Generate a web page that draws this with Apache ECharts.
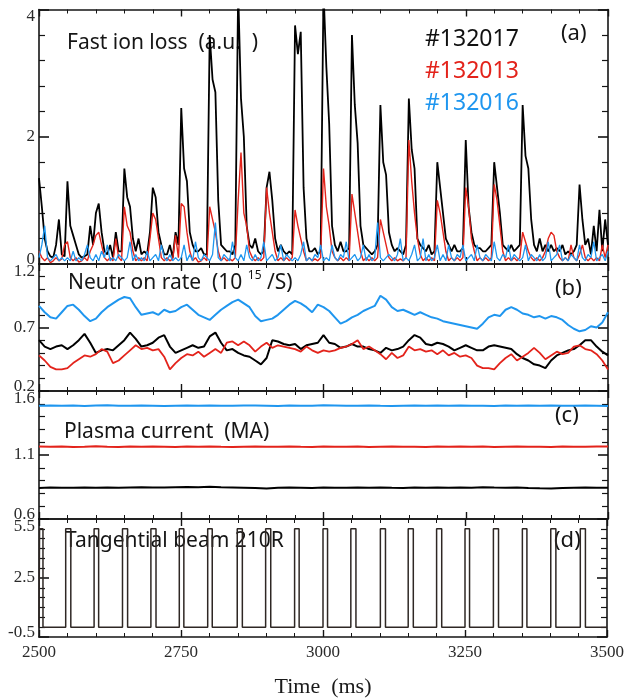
<!DOCTYPE html>
<html>
<head>
<meta charset="utf-8">
<script src="https://cdn.jsdelivr.net/npm/echarts@6/dist/echarts.min.js"></script>
<style>
  html, body { margin: 0; padding: 0; background: #ffffff; }
  #chart { width: 627px; height: 699px; }
</style>
</head>
<body>
<div id="chart"></div>
<script>
// ---------------- data ----------------
const T_START = 2500;          // ms, first sample
const T_END = 3500;            // ms, last sample
const LOSS_STEP = 5;           // ms between fast-ion-loss samples
const NEUTRON_STEP = 10;       // ms between neutron-rate samples
const CURRENT_STEP = 20;       // ms between plasma-current samples

const shotNames = ['#132017', '#132013', '#132016'];

// (a) fast ion loss, a.u., every 5 ms from 2500 ms
const loss132017 = [
  1.35,0.9,0.4,0.2,0.12,0.1,0.3,0.7,0.15,0.12,
  1.3,0.6,0.45,0.3,0.15,0.1,0.12,0.15,0.6,0.3,
  0.8,0.95,0.5,0.2,0.15,0.3,0.1,0.5,0.2,0.2,
  1.5,1.05,0.9,0.4,0.2,0.4,0.15,0.2,0.15,0.5,
  1.2,1.05,0.5,0.3,0.15,0.15,0.3,0.1,0.5,0.3,
  2.45,1.5,1.3,0.5,0.3,0.2,0.2,0.25,0.15,0.15,
  3.6,2.9,2.7,1.0,0.3,0.25,0.2,0.2,0.15,0.3,
  4.3,2.6,2.0,0.6,0.3,0.25,0.4,0.2,0.15,0.2,
  1.2,1.45,1.0,0.4,0.2,0.3,0.2,0.15,0.2,0.15,
  3.75,3.3,3.65,1.2,0.4,0.2,0.2,0.25,0.15,0.2,
  4.3,3.1,2.2,0.6,0.3,0.2,0.35,0.2,0.2,0.25,
  3.6,2.5,1.9,0.6,0.3,0.25,0.2,0.15,0.2,0.3,
  2.5,1.6,1.4,0.5,0.3,0.2,0.25,0.2,0.15,0.3,
  2.6,1.8,1.5,0.4,0.3,0.25,0.2,0.3,0.15,0.2,
  1.6,1.2,0.8,0.4,0.3,0.2,0.3,0.2,0.2,0.25,
  1.95,0.9,0.5,0.3,0.25,0.25,0.2,0.2,0.25,0.3,
  1.6,1.2,0.8,0.3,0.25,0.2,0.3,0.2,0.25,0.3,
  2.5,1.7,1.5,0.7,0.3,0.2,0.4,0.2,0.3,0.2,
  0.3,0.2,0.25,0.2,0.3,0.15,0.2,0.15,0.2,0.3,
  1.25,0.7,0.3,0.4,0.15,0.6,0.2,0.85,0.2,0.7,
  0.3
];
const loss132013 = [
  0.2,0.1,0.05,0.1,0.02,0.05,0.1,0.05,0.08,0.3,
  0.35,0.1,0.05,0.1,0.03,0.05,0.1,0.05,0.2,0.3,
  0.45,0.5,0.3,0.1,0.05,0.1,0.05,0.4,0.1,0.05,
  0.9,0.6,0.5,0.2,0.05,0.1,0.05,0.1,0.05,0.4,
  0.8,0.7,0.4,0.1,0.05,0.1,0.05,0.08,0.45,0.1,
  0.95,0.9,0.5,0.2,0.05,0.1,0.03,0.05,0.1,0.05,
  0.9,0.7,0.5,0.2,0.05,0.1,0.05,0.08,0.05,0.1,
  1.0,1.75,0.8,0.6,0.2,0.1,0.05,0.1,0.05,0.1,
  1.2,0.8,0.5,0.2,0.05,0.1,0.05,0.1,0.05,0.1,
  0.85,0.6,0.4,0.2,0.05,0.1,0.05,0.08,0.05,0.1,
  1.5,0.9,0.6,0.2,0.1,0.05,0.1,0.05,0.1,0.05,
  1.1,0.8,0.5,0.2,0.05,0.1,0.05,0.1,0.05,0.1,
  0.7,0.5,0.3,0.1,0.05,0.1,0.05,0.08,0.05,0.1,
  1.95,1.3,0.8,0.4,0.15,0.05,0.1,0.05,0.1,0.05,
  1.0,0.8,0.5,0.2,0.05,0.1,0.05,0.1,0.05,0.1,
  1.2,0.9,0.4,0.2,0.05,0.1,0.05,0.1,0.05,0.1,
  1.25,1.0,0.6,0.2,0.05,0.1,0.05,0.1,0.05,0.1,
  0.5,0.35,0.2,0.1,0.05,0.1,0.05,0.1,0.2,0.4,
  0.5,0.45,0.2,0.1,0.05,0.1,0.05,0.3,0.1,0.05,
  0.15,0.3,0.1,0.05,0.1,0.05,0.1,0.05,0.3,0.1,
  0.3
];
const loss132016 = [
  0.1,0.3,0.6,0.1,0.05,0.1,0.15,0.05,0.1,0.05,
  0.1,0.05,0.2,0.05,0.1,0.05,0.15,0.3,0.1,0.05,
  0.15,0.05,0.2,0.1,0.3,0.05,0.1,0.05,0.15,0.1,
  0.05,0.1,0.35,0.05,0.15,0.05,0.1,0.05,0.2,0.05,
  0.1,0.15,0.05,0.3,0.1,0.05,0.15,0.05,0.1,0.05,
  0.1,0.3,0.05,0.15,0.05,0.35,0.1,0.05,0.15,0.1,
  0.05,0.15,0.65,0.1,0.05,0.15,0.1,0.05,0.35,0.1,
  0.05,0.15,0.05,0.3,0.1,0.05,0.15,0.05,0.1,0.35,
  0.05,0.1,0.15,0.05,0.1,0.3,0.05,0.15,0.1,0.05,
  0.1,0.05,0.15,0.35,0.05,0.1,0.05,0.15,0.1,0.3,
  0.05,0.1,0.05,0.3,0.1,0.05,0.15,0.1,0.35,0.05,
  0.1,0.15,0.05,0.1,0.3,0.05,0.15,0.05,0.1,0.65,
  0.1,0.05,0.1,0.15,0.1,0.05,0.15,0.4,0.05,0.1,
  0.05,0.15,0.3,0.05,0.1,0.4,0.05,0.15,0.05,0.1,
  0.3,0.05,0.15,0.05,0.3,0.1,0.05,0.15,0.1,0.3,
  0.05,0.1,0.15,0.05,0.3,0.1,0.05,0.15,0.1,0.05,
  0.35,0.1,0.05,0.15,0.1,0.3,0.05,0.15,0.1,0.05,
  0.1,0.3,0.05,0.15,0.1,0.05,0.15,0.05,0.1,0.35,
  0.05,0.1,0.15,0.3,0.05,0.1,0.05,0.15,0.1,0.05,
  0.3,0.1,0.05,0.15,0.1,0.35,0.05,0.1,0.15,0.05,
  0.2
];

// (b) neutron rate, 10^15 /s, every 10 ms from 2500 ms
const neutron132017 = [
  0.60,0.55,0.53,0.55,0.56,0.53,0.56,0.60,0.65,0.58,
  0.50,0.52,0.53,0.52,0.56,0.60,0.66,0.61,0.55,0.56,
  0.58,0.62,0.64,0.55,0.50,0.52,0.54,0.56,0.54,0.55,
  0.63,0.66,0.58,0.52,0.53,0.50,0.48,0.47,0.44,0.41,
  0.46,0.60,0.59,0.57,0.56,0.57,0.53,0.56,0.57,0.58,
  0.64,0.58,0.57,0.54,0.55,0.57,0.55,0.55,0.53,0.52,
  0.50,0.54,0.52,0.53,0.55,0.60,0.64,0.62,0.57,0.56,
  0.58,0.57,0.55,0.52,0.54,0.56,0.54,0.52,0.52,0.55,
  0.56,0.55,0.54,0.53,0.49,0.46,0.44,0.41,0.40,0.38,
  0.44,0.48,0.50,0.52,0.53,0.56,0.60,0.60,0.55,0.51,
  0.48
];
const neutron132013 = [
  0.48,0.44,0.39,0.37,0.37,0.38,0.42,0.45,0.48,0.47,
  0.49,0.53,0.51,0.42,0.44,0.48,0.52,0.56,0.53,0.54,
  0.52,0.53,0.47,0.37,0.42,0.46,0.49,0.48,0.51,0.47,
  0.50,0.53,0.50,0.58,0.59,0.56,0.59,0.56,0.51,0.55,
  0.58,0.54,0.56,0.55,0.54,0.53,0.51,0.55,0.52,0.50,
  0.52,0.51,0.52,0.54,0.55,0.57,0.60,0.53,0.55,0.52,
  0.49,0.45,0.50,0.46,0.48,0.55,0.52,0.53,0.51,0.52,
  0.49,0.52,0.48,0.50,0.47,0.48,0.46,0.40,0.38,0.38,
  0.37,0.42,0.46,0.49,0.44,0.47,0.50,0.54,0.50,0.45,
  0.48,0.51,0.49,0.50,0.55,0.56,0.53,0.52,0.49,0.44,
  0.37
];
const neutron132016 = [
  0.87,0.82,0.78,0.77,0.82,0.87,0.88,0.84,0.79,0.75,
  0.77,0.82,0.86,0.89,0.92,0.94,0.93,0.86,0.80,0.81,
  0.82,0.80,0.84,0.82,0.83,0.86,0.88,0.84,0.80,0.78,
  0.76,0.80,0.84,0.87,0.90,0.92,0.89,0.86,0.79,0.75,
  0.76,0.77,0.80,0.84,0.88,0.91,0.89,0.86,0.82,0.88,
  0.86,0.83,0.78,0.73,0.75,0.78,0.80,0.83,0.85,0.87,
  0.95,0.92,0.86,0.83,0.84,0.82,0.80,0.82,0.80,0.78,
  0.77,0.75,0.74,0.73,0.72,0.71,0.70,0.69,0.73,0.78,
  0.80,0.79,0.84,0.86,0.84,0.81,0.80,0.78,0.79,0.77,
  0.79,0.78,0.76,0.72,0.69,0.67,0.68,0.71,0.70,0.74,
  0.82
];

// (c) plasma current, MA, every 20 ms from 2500 ms
const current132017 = [
  0.843,0.846,0.844,0.845,0.847,0.845,0.846,0.844,0.847,0.849,
  0.847,0.846,0.848,0.850,0.849,0.851,0.848,0.846,0.844,0.842,
  0.838,0.844,0.846,0.845,0.843,0.846,0.844,0.845,0.847,0.845,
  0.846,0.844,0.843,0.846,0.845,0.847,0.844,0.846,0.845,0.848,
  0.846,0.845,0.847,0.843,0.840,0.838,0.843,0.845,0.846,0.844,
  0.845
];
const current132013 = [
  1.166,1.164,1.167,1.163,1.165,1.168,1.165,1.163,1.166,1.164,
  1.166,1.165,1.163,1.166,1.165,1.167,1.164,1.162,1.165,1.166,
  1.164,1.165,1.167,1.164,1.163,1.166,1.165,1.164,1.166,1.163,
  1.165,1.167,1.164,1.165,1.163,1.166,1.165,1.167,1.164,1.166,
  1.162,1.165,1.166,1.164,1.165,1.163,1.166,1.164,1.165,1.167,
  1.166
];
const current132016 = [
  1.485,1.487,1.484,1.486,1.483,1.486,1.488,1.485,1.484,1.486,
  1.485,1.483,1.485,1.487,1.484,1.486,1.485,1.484,1.486,1.487,
  1.485,1.483,1.486,1.484,1.485,1.488,1.486,1.484,1.485,1.487,
  1.484,1.483,1.485,1.486,1.484,1.486,1.485,1.487,1.484,1.485,
  1.483,1.486,1.485,1.487,1.484,1.486,1.485,1.484,1.487,1.485,
  1.482
];

// (d) tangential beam 210R: switch-on / switch-off times (ms) and power levels
const beamOn  = [2501,2547,2597,2647,2697,2747,2797,2849,2899,2950,3000,3049,3101,3150,3200,3250,3300,3351,3401,3453];
const beamOff = [2507,2556,2605,2656,2706,2755,2805,2858,2908,2958,3008,3058,3110,3159,3209,3258,3309,3359,3410,3462];
const beamLow = 0;
const beamHigh = 5;

// axis ticks per panel
const panelMin      = [0, 0.2, 0.6, -0.5];
const panelMax      = [4, 1.2, 1.6, 5.5];
const panelInterval = [2, 0.5, 0.5, 3];
const panelMinorSplit = [5, 5, 5, 6];
const panelDigits   = [0, 1, 1, 1];
const timeTicks = { min: 2500, max: 3500, interval: 250, minorSplit: 5 };

// ---------------- layout & style ----------------
const GRID_LEFT = 39, GRID_RIGHT = 19;
const panelTop    = [8, 264, 391, 519];
const panelHeight = [256, 127, 128, 127];

const INK = '#151515';
const RED = '#e3231b';
const BLUE = '#1f96ef';
const SERIF = '"Liberation Serif", "Times New Roman", serif';
const SANS = '"Noto Sans", "Open Sans", sans-serif';

function timed(values, step) {
  return values.map((v, i) => [T_START + i * step, v]);
}

function beamTrace() {
  const pts = [[T_START, beamLow]];
  for (let i = 0; i < beamOn.length; i++) {
    pts.push([beamOn[i], beamLow], [beamOn[i], beamHigh], [beamOff[i], beamHigh], [beamOff[i], beamLow]);
  }
  pts.push([T_END, beamLow]);
  return pts;
}

const axisLineStyle = { color: INK, width: 1.6 };

const grids = panelTop.map((top, i) => ({
  left: GRID_LEFT, right: GRID_RIGHT, top: top, height: panelHeight[i], containLabel: false
}));

const xAxes = [];
const yAxes = [];
for (let i = 0; i < 4; i++) {
  const baseX = {
    type: 'value', gridIndex: i,
    min: timeTicks.min, max: timeTicks.max, interval: timeTicks.interval,
    axisLine: { show: true, onZero: false, lineStyle: axisLineStyle },
    axisTick: { show: true, inside: true, length: 7, lineStyle: { color: INK, width: 1.4 } },
    minorTick: { show: true, splitNumber: timeTicks.minorSplit, length: 4, lineStyle: { color: INK, width: 1 } },
    splitLine: { show: false }, minorSplitLine: { show: false }
  };
  const last = i === 3;
  xAxes.push(Object.assign({}, baseX, {
    position: 'bottom',
    axisLabel: {
      show: last, margin: 7, fontFamily: SERIF, fontSize: 17, color: '#2a2a2a',
      formatter: function (v) { return String(Math.round(v)); }
    },
    name: last ? 'Time  (ms)' : '',
    nameLocation: 'middle', nameGap: 39,
    nameTextStyle: { fontFamily: SERIF, fontSize: 22, color: '#1a1a1a' }
  }));
  xAxes.push(Object.assign({}, baseX, { position: 'top', axisLabel: { show: false } }));

  const lo = panelMin[i], hi = panelMax[i], digits = panelDigits[i];
  const baseY = {
    type: 'value', gridIndex: i,
    min: lo, max: hi, interval: panelInterval[i],
    axisLine: { show: true, onZero: false, lineStyle: axisLineStyle },
    axisTick: { show: true, inside: true, length: 10, lineStyle: { color: INK, width: 1.6 } },
    minorTick: { show: true, splitNumber: panelMinorSplit[i], length: 6, lineStyle: { color: INK, width: 1.2 } },
    splitLine: { show: false }, minorSplitLine: { show: false }
  };
  yAxes.push(Object.assign({}, baseY, {
    position: 'left',
    axisLabel: {
      show: true, margin: 4,
      formatter: function (v) {
        const s = v.toFixed(digits);
        if (Math.abs(v - hi) < 1e-6) return '{pad| }\n{v|' + s + '}';
        if (Math.abs(v - lo) < 1e-6) return '{v|' + s + '}\n{pad2| }';
        return '{v|' + s + '}';
      },
      rich: {
        v: { fontFamily: SERIF, fontSize: 17, lineHeight: 17, color: '#2a2a2a' },
        pad: { fontSize: 2, lineHeight: 15 },
        pad2: { fontSize: 2, lineHeight: 9 }
      }
    }
  }));
  yAxes.push(Object.assign({}, baseY, { position: 'right', axisLabel: { show: false } }));
}

function line(panel, data, color, width) {
  return {
    type: 'line', xAxisIndex: panel * 2, yAxisIndex: panel * 2,
    data: data, showSymbol: false, symbol: 'none', clip: true,
    lineStyle: { color: color, width: width }, z: 3
  };
}

const series = [
  line(0, timed(loss132017, LOSS_STEP), '#000000', 1.8),
  line(0, timed(loss132013, LOSS_STEP), RED, 1.4),
  line(0, timed(loss132016, LOSS_STEP), BLUE, 1.3),
  line(1, timed(neutron132017, NEUTRON_STEP), '#000000', 2),
  line(1, timed(neutron132013, NEUTRON_STEP), RED, 1.8),
  line(1, timed(neutron132016, NEUTRON_STEP), BLUE, 2),
  line(2, timed(current132017, CURRENT_STEP), '#000000', 2),
  line(2, timed(current132013, CURRENT_STEP), RED, 2),
  line(2, timed(current132016, CURRENT_STEP), BLUE, 2),
  line(3, beamTrace(), '#2e2724', 1.5)
];

function label(x, y, text, size, color) {
  return {
    type: 'text', x: x, y: y, z: 1,
    style: { text: text, fontFamily: SANS, fontSize: size, fill: color || INK, align: 'left', verticalAlign: 'middle' }
  };
}

const graphics = [
  label(67, 43, 'Fast ion loss  (a.u.  )', 21),
  label(425, 39, shotNames[0], 23, '#111111'),
  label(425, 71, shotNames[1], 23, RED),
  label(425, 103, shotNames[2], 23, BLUE),
  label(561, 34, '(a)', 22),
  {
    type: 'text', x: 68, y: 283, z: 1,
    style: {
      text: '{m|Neutr on rate  (10 }{s|15}{m| /S)}',
      verticalAlign: 'middle', align: 'left',
      rich: {
        m: { fontFamily: SANS, fontSize: 21, fill: INK, lineHeight: 26 },
        s: { fontFamily: SANS, fontSize: 12, fill: INK, verticalAlign: 'top', lineHeight: 26 }
      }
    }
  },
  label(555, 289, '(b)', 22),
  label(64, 432, 'Plasma current  (MA)', 21),
  label(555, 416, '(c)', 22),
  label(65, 541, 'Tangential beam 210R', 21),
  label(554, 541, '(d)', 22)
];

const chart = echarts.init(document.getElementById('chart'), null, { renderer: 'canvas' });
chart.setOption({
  animation: false,
  backgroundColor: '#ffffff',
  grid: grids,
  xAxis: xAxes,
  yAxis: yAxes,
  series: series,
  graphic: graphics
});
</script>
</body>
</html>
